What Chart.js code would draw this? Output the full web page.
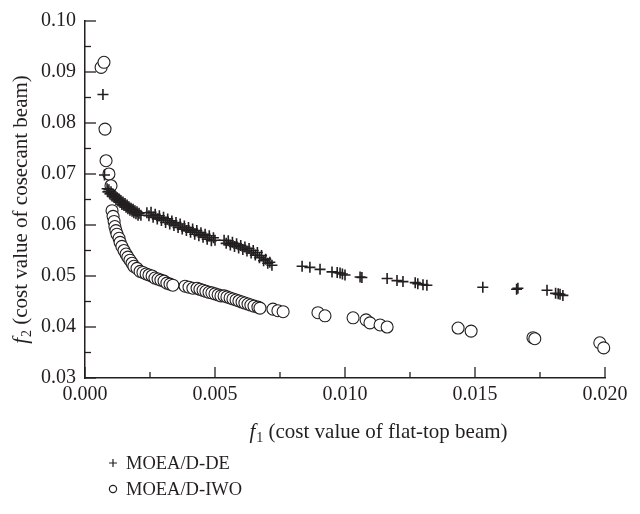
<!DOCTYPE html>
<html><head><meta charset="utf-8">
<script src="https://cdn.jsdelivr.net/npm/chart.js@4/dist/chart.umd.min.js"></script>
<style>html,body{margin:0;padding:0;background:#fff}#wrap{position:relative;width:640px;height:514px}</style>
</head><body><div id="wrap"><canvas id="c" width="640" height="514"></canvas></div>
<script>
// ---- data ----
const seriesNames = ["MOEA/D-DE", "MOEA/D-IWO"];
const xTickValues = [0.000, 0.005, 0.010, 0.015, 0.020];
const yTickValues = [0.03, 0.04, 0.05, 0.06, 0.07, 0.08, 0.09, 0.10];
const xTitle = "(cost value of flat-top beam)";
const yTitle = "(cost value of cosecant beam)";

const deF1 = [0.00069,0.00075,
 0.00085,0.00088,0.00092,0.00096,0.00100,0.00104,0.00108,0.00112,0.00115,0.00119,0.00123,0.00127,0.00131,0.00135,0.00138,0.00142,0.00146,0.00150,0.00154,0.00158,0.00162,0.00165,0.00169,0.00173,0.00177,0.00181,0.00185,0.00188,0.00192,0.00196,0.00200,0.00204,0.00208,0.00215,
 0.00238,0.00246,0.00254,0.00262,0.00270,0.00278,0.00286,0.00294,0.00302,0.00310,0.00318,0.00326,0.00334,0.00342,0.00350,0.00358,0.00366,0.00374,0.00382,0.00390,0.00398,0.00406,0.00414,0.00422,0.00430,0.00438,0.00446,0.00454,0.00462,0.00470,0.00478,0.00486,0.00494,0.00500,
 0.00535,0.00543,0.00551,0.00559,0.00567,0.00575,0.00583,0.00591,0.00599,0.00607,0.00615,0.00623,0.00631,0.00639,0.00647,0.00655,0.00663,0.00671,0.00679,0.00687,0.00695,0.00703,0.00711,0.00719,
 0.00835,0.00865,0.00904,0.00950,0.00970,0.00981,0.00990,0.01000,0.01058,0.01065,0.01162,0.01200,0.01223,0.01270,0.01280,0.01300,0.01315,0.01530,0.01660,0.01665,0.01777,0.01810,0.01820,0.01827,0.01838];
const deF2 = [0.0856,0.0698,
 0.0671,0.0665,0.0669,0.0661,0.0665,0.0657,0.0661,0.0654,0.0658,0.0650,0.0654,0.0647,0.0651,0.0644,0.0648,0.0640,0.0645,0.0638,0.0642,0.0635,0.0639,0.0632,0.0636,0.0629,0.0633,0.0627,0.0631,0.0624,0.0628,0.0622,0.0626,0.0619,0.0623,0.0619,
 0.0624,0.0618,0.0625,0.0615,0.0621,0.0612,0.0618,0.0609,0.0615,0.0605,0.0612,0.0602,0.0608,0.0599,0.0605,0.0595,0.0602,0.0592,0.0598,0.0589,0.0595,0.0586,0.0592,0.0582,0.0589,0.0579,0.0585,0.0576,0.0582,0.0572,0.0579,0.0569,0.0575,0.0570,
 0.0570,0.0564,0.0569,0.0561,0.0566,0.0558,0.0563,0.0555,0.0560,0.0552,0.0557,0.0549,0.0554,0.0545,0.0550,0.0541,0.0546,0.0536,0.0540,0.0530,0.0533,0.0525,0.0527,0.0521,
 0.0519,0.0517,0.0513,0.0508,0.0507,0.0506,0.0504,0.0502,0.0498,0.0497,0.0495,0.0491,0.0489,0.0487,0.0485,0.0483,0.0482,0.0478,0.0474,0.0476,0.0472,0.0466,0.0465,0.0464,0.0462];

const iwoF1 = [0.00062,0.00073,0.00077,0.00081,0.00092,0.00100,
 0.00104,0.00108,0.00112,0.00115,0.00119,0.00123,0.00131,0.00135,0.00142,0.00150,0.00158,0.00165,0.00173,0.00181,0.00188,0.00200,0.00212,0.00223,0.00235,0.00246,0.00258,0.00269,0.00281,0.00292,0.00304,0.00315,0.00327,0.00338,
 0.00385,0.00400,0.00415,0.00431,0.00442,0.00454,0.00465,0.00477,0.00488,0.00500,0.00512,0.00523,0.00535,0.00546,0.00558,0.00569,0.00581,0.00592,0.00604,0.00615,0.00627,0.00638,0.00650,0.00665,0.00673,
 0.00723,0.00742,0.00762,0.00896,0.00923,0.01031,0.01081,0.01096,0.01135,0.01162,0.01435,0.01485,0.01723,0.01730,0.01980,0.01995];
const iwoF2 = [0.0909,0.0919,0.0788,0.0726,0.0700,0.0677,
 0.0628,0.0617,0.0607,0.0597,0.0589,0.0582,0.0574,0.0566,0.0558,0.0550,0.0543,0.0537,0.0531,0.0525,0.0519,0.0515,0.0509,0.0507,0.0504,0.0502,0.0500,0.0496,0.0494,0.0492,0.0490,0.0486,0.0484,0.0482,
 0.0480,0.0478,0.0476,0.0476,0.0474,0.0472,0.0470,0.0468,0.0467,0.0465,0.0463,0.0461,0.0461,0.0459,0.0457,0.0455,0.0453,0.0451,0.0449,0.0447,0.0445,0.0443,0.0441,0.0439,0.0437,
 0.0435,0.0432,0.0430,0.0428,0.0422,0.0418,0.0414,0.0408,0.0404,0.0400,0.0398,0.0392,0.0379,0.0377,0.0369,0.0359];

const INK = '#231f20';
const SERIF = '"Liberation Serif", "DejaVu Serif", serif';
const toPts = (xs, ys) => xs.map((x, i) => ({x: x, y: ys[i]}));

const decor = {
  id: 'decor',
  afterDraw(chart) {
    const ctx = chart.ctx, xs = chart.scales.x, ys = chart.scales.y;
    const a = chart.chartArea;
    ctx.save();
    ctx.strokeStyle = INK; ctx.lineWidth = 1.3;
    for (let v = 0; v <= 0.02 + 1e-9; v += 0.0025) {
      const px = xs.getPixelForValue(v);
      const major = Math.abs(v / 0.005 - Math.round(v / 0.005)) < 1e-6;
      ctx.beginPath(); ctx.moveTo(px, a.bottom); ctx.lineTo(px, a.bottom - (major ? 11 : 6)); ctx.stroke();
    }
    for (let v = 0.03; v <= 0.1 + 1e-9; v += 0.005) {
      const py = ys.getPixelForValue(v);
      const major = Math.abs(v / 0.01 - Math.round(v / 0.01)) < 1e-6;
      ctx.beginPath(); ctx.moveTo(a.left, py); ctx.lineTo(a.left + (major ? 11 : 6), py); ctx.stroke();
    }
    ctx.fillStyle = INK;
    ctx.textBaseline = 'alphabetic';
    const drawTitle = (sub, rest, cx, cy) => {
      ctx.font = 'italic 21px ' + SERIF; const wf = ctx.measureText('f').width;
      ctx.font = '14px ' + SERIF; const ws = ctx.measureText(sub).width;
      ctx.font = '21px ' + SERIF; const wr = ctx.measureText(' ' + rest).width;
      let x0 = cx - (wf + ws + wr) / 2;
      ctx.textAlign = 'left';
      ctx.font = 'italic 21px ' + SERIF; ctx.fillText('f', x0, cy);
      ctx.font = '14px ' + SERIF; ctx.fillText(sub, x0 + wf + 1, cy + 4);
      ctx.font = '21px ' + SERIF; ctx.fillText(' ' + rest, x0 + wf + ws + 1, cy);
    };
    drawTitle('1', xTitle, 378, 438);
    ctx.save();
    ctx.translate(27, 210); ctx.rotate(-Math.PI / 2);
    drawTitle('2', yTitle, 0, 0);
    ctx.restore();
    const items = [{label: seriesNames[0], kind: 'plus', y: 463}, {label: seriesNames[1], kind: 'circle', y: 489}];
    ctx.font = '18.5px ' + SERIF; ctx.textBaseline = 'middle'; ctx.lineWidth = 1.2;
    items.forEach(it => {
      const mx = 113;
      ctx.beginPath();
      if (it.kind === 'plus') { ctx.moveTo(mx - 4, it.y); ctx.lineTo(mx + 4, it.y); ctx.moveTo(mx, it.y - 4); ctx.lineTo(mx, it.y + 4); }
      else { ctx.arc(mx, it.y, 3.6, 0, Math.PI * 2); }
      ctx.stroke();
      ctx.fillText(it.label, 126, it.y + 1);
    });
    ctx.restore();
  }
};

new Chart(document.getElementById('c'), {
  type: 'scatter',
  data: {
    datasets: [
      {label: seriesNames[0], data: toPts(deF1, deF2), pointStyle: 'cross', pointRadius: 5.5, borderColor: INK, borderWidth: 1.6, backgroundColor: INK, clip: false},
      {label: seriesNames[1], data: toPts(iwoF1, iwoF2), pointStyle: 'circle', pointRadius: 6, borderColor: INK, borderWidth: 1.1, backgroundColor: '#ffffff', clip: false}
    ]
  },
  options: {
    responsive: false, animation: false, devicePixelRatio: 1,
    layout: {padding: {left: 0, top: 19, right: 35, bottom: 0}},
    plugins: {legend: {display: false}, tooltip: {enabled: false}},
    scales: {
      x: {type: 'linear', min: 0, max: 0.02,
        afterBuildTicks: s => { s.ticks = xTickValues.map(v => ({value: v})); },
        afterFit: s => { s.height = 514 - 378; },
        ticks: {callback: v => Number(v).toFixed(3), font: {family: SERIF, size: 20}, color: INK, padding: 5, maxRotation: 0},
        grid: {display: true, drawOnChartArea: false, drawTicks: false},
        border: {display: true, color: INK, width: 1.5}},
      y: {type: 'linear', min: 0.03, max: 0.10,
        afterBuildTicks: s => { s.ticks = yTickValues.map(v => ({value: v})); },
        afterFit: s => { s.width = 85; },
        ticks: {callback: v => Number(v).toFixed(2), font: {family: SERIF, size: 20}, color: INK, padding: 9},
        grid: {display: true, drawOnChartArea: false, drawTicks: false},
        border: {display: true, color: INK, width: 1.5}}
    }
  },
  plugins: [decor]
});
</script></body></html>
